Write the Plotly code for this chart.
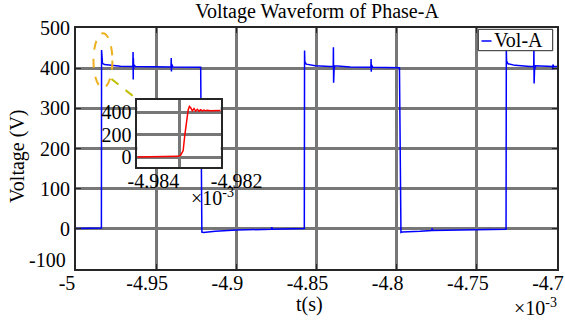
import plotly.graph_objects as go

# Phase-A voltage, time axis in units of 1e-3 s
t_main = [
    -5.0000, -4.98415, -4.98405, -4.98395, -4.98349, -4.98224, -4.97850, -4.97227,
    -4.96455, -4.96440, -4.96430, -4.96420, -4.96405, -4.96386, -4.96293, -4.95358,
    -4.94075, -4.94060, -4.94048, -4.94036, -4.93956, -4.93178, -4.92224, -4.92150,
    -4.92056, -4.91308, -4.90000, -4.87819, -4.87788, -4.87757, -4.86012, -4.85760,
    -4.85745, -4.85730, -4.85639, -4.85078, -4.84143, -4.83956, -4.83945, -4.83932,
    -4.83920, -4.83905, -4.83863, -4.82897, -4.81607, -4.81595, -4.81583, -4.81570,
    -4.81495, -4.80717, -4.79826, -4.79732, -4.79657, -4.78536, -4.77819, -4.77788,
    -4.77757, -4.76044, -4.73178, -4.73160, -4.73146, -4.73053, -4.72617, -4.71682,
    -4.71452, -4.71440, -4.71428, -4.71416, -4.71400, -4.71340, -4.70748, -4.70280,
    -4.70265, -4.70249, -4.70218, -4.70000,
]
v_main = [
    1, 2, 445, 418, 412, 409, 407, 405,
    404, 440, 372, 425, 398, 408, 404, 403,
    403, 425, 392, 410, 403, 403, 402, -8,
    -9, -6, -3, -1, 4, -1, 0, 1,
    444, 416, 410, 406, 404, 404, 452, 364,
    430, 395, 406, 403, 402, 423, 391, 408,
    402, 402, 401, -9, -8, -6, -4, 1,
    -4, -3, -1, 446, 418, 411, 407, 404,
    404, 453, 362, 432, 396, 406, 404, 404,
    397, 409, 404, 404,
]

# Zoomed rising edge
t_zoom = [
    -4.98400, -4.98360, -4.98320, -4.98302, -4.98296, -4.98290, -4.98286, -4.98282,
    -4.98278, -4.98275, -4.98272, -4.98268, -4.98264, -4.98260, -4.98256, -4.98252,
    -4.98248, -4.98244, -4.98240, -4.98236, -4.98232, -4.98225, -4.98200,
]
v_zoom = [
    3, 4, 6, 9, 20, 60, 200, 340,
    420, 452, 440, 412, 432, 410, 426, 410,
    422, 412, 420, 413, 418, 414, 415,
]

x_ticks = [-5, -4.95, -4.9, -4.85, -4.8, -4.75, -4.7]
x_ticktext = ["-5", "-4.95", "-4.9", "-4.85", "-4.8", "-4.75", "-4.7"]
y_ticks = [-100, 0, 100, 200, 300, 400, 500]
# the bottom label is placed separately, lifted clear of the x labels
y_ticktext = ["", "0", "100", "200", "300", "400", "500"]
y_bottom_label = "-100"
zx_ticks = [-4.984, -4.983, -4.982]
zx_ticktext = ["-4.984", "", "-4.982"]
zy_ticks = [0, 200, 400]
zy_ticktext = ["0", "200", "400"]

FONT = "Liberation Serif"
GRID = "#777777"
FS = 20

# plot area in pixels
L, R, T, B = 76, 557, 28, 269
PW, PH = R - L, B - T


def px_x(p):
    return (p - L) / PW


def px_y(p):
    return (B - p) / PH


fig = go.Figure()
fig.add_trace(go.Scatter(x=t_main, y=v_main, mode="lines", name="Vol-A",
                         line=dict(color="#0000ff", width=1.5), showlegend=False))
fig.add_trace(go.Scatter(x=t_zoom, y=v_zoom, mode="lines", xaxis="x2", yaxis="y2",
                         line=dict(color="#ff0000", width=1.5), showlegend=False))

axis_common = dict(showgrid=True, gridcolor=GRID, gridwidth=3, zeroline=False,
                   showline=True, linecolor="#262626", linewidth=2, mirror="allticks",
                   ticks="inside", ticklen=5, tickcolor="#262626", automargin=False,
                   tickfont=dict(family=FONT, size=FS, color="black"))
inset_common = dict(showgrid=True, gridcolor=GRID, gridwidth=3, zeroline=False,
                    showline=True, linecolor="#262626", linewidth=1.5, mirror=True,
                    ticks="", automargin=False,
                    tickfont=dict(family=FONT, size=FS, color="black"))

fig.update_layout(
    width=565, height=324,
    margin=dict(l=L, r=565 - R, t=T, b=324 - B, autoexpand=False),
    paper_bgcolor="white", plot_bgcolor="white",
    font=dict(family=FONT, color="black"),
    title=dict(text="Voltage Waveform of Phase-A", x=317 / 565, xanchor="center",
               y=1 - 11 / 324, yanchor="middle", font=dict(family=FONT, size=FS)),
    xaxis=dict(range=[-5, -4.7], tickvals=x_ticks, ticktext=x_ticktext,
               ticklabelshift=-9, ticklabelstandoff=-5, **axis_common),
    yaxis=dict(range=[-100, 500], tickvals=y_ticks, ticktext=y_ticktext, **axis_common),
    xaxis2=dict(domain=[px_x(137.3), px_x(220.7)], anchor="y2", range=[-4.984, -4.982],
                tickvals=zx_ticks, ticktext=zx_ticktext, ticklabelshift=16,
                ticklabelstandoff=-5, **inset_common),
    yaxis2=dict(domain=[px_y(167), px_y(100)], anchor="x2", range=[-86, 509],
                tickvals=zy_ticks, ticktext=zy_ticktext, **inset_common),
    showlegend=False,
)

# Bottom y label
fig.add_annotation(text=y_bottom_label, xref="paper", yref="paper", x=px_x(68),
                   y=px_y(260), xanchor="right", yanchor="middle", showarrow=False,
                   font=dict(family=FONT, size=FS))

# Axis titles and exponent labels
fig.add_annotation(text="t(s)", xref="paper", yref="paper", x=px_x(309), y=px_y(304),
                   xanchor="center", yanchor="middle", showarrow=False,
                   font=dict(family=FONT, size=FS))
fig.add_annotation(text="Voltage (V)", xref="paper", yref="paper", x=px_x(17), y=px_y(156),
                   xanchor="center", yanchor="middle", textangle=-90, showarrow=False,
                   font=dict(family=FONT, size=FS))
fig.add_annotation(text="×10<sup>-3</sup>", xref="paper", yref="paper", x=px_x(512),
                   y=px_y(307), xanchor="left", yanchor="middle", showarrow=False,
                   font=dict(family=FONT, size=FS))
fig.add_annotation(text="×10<sup>-3</sup>", xref="paper", yref="paper", x=px_x(189),
                   y=px_y(197), xanchor="left", yanchor="middle", showarrow=False,
                   font=dict(family=FONT, size=FS))

# Highlight of the rising edge and leader to the zoomed view
fig.add_shape(type="circle", xref="x", yref="y", x0=-4.9891, x1=-4.9773, y0=351, y1=487,
              line=dict(color="#EDB120", width=2, dash="dash"))
fig.add_shape(type="line", xref="x", yref="y", x0=-4.9779, y0=373, x1=-4.9623, y1=324,
              line=dict(color="#BFBF00", width=2, dash="dash"))

# Legend box
fig.add_shape(type="rect", xref="paper", yref="paper", x0=px_x(478.3), x1=px_x(552.7),
              y0=px_y(50.7), y1=px_y(29.3), line=dict(color="#262626", width=1),
              fillcolor="white", layer="above")
fig.add_shape(type="line", xref="paper", yref="paper", x0=px_x(481.5), x1=px_x(491.5),
              y0=px_y(41), y1=px_y(41), line=dict(color="#0000ff", width=1.5), layer="above")
fig.add_annotation(text="Vol-A", xref="paper", yref="paper", x=px_x(492), y=px_y(40),
                   xanchor="left", yanchor="middle", showarrow=False,
                   font=dict(family=FONT, size=FS))

fig.write_html("out.html")
